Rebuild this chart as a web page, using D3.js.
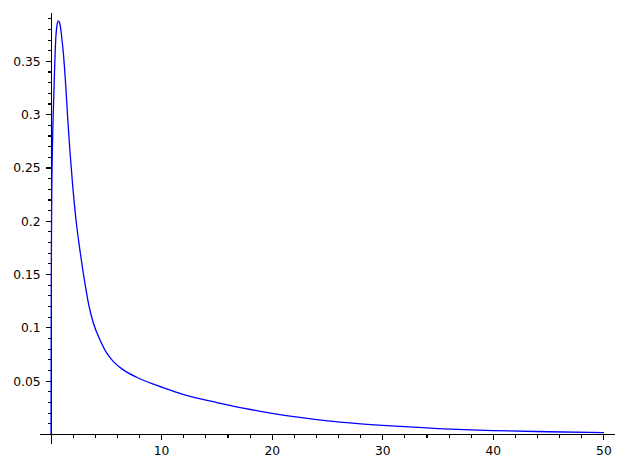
<!DOCTYPE html>
<html>
<head>
<meta charset="utf-8">
<script src="https://cdn.jsdelivr.net/npm/d3@7"></script>
<style>
  html, body { margin: 0; padding: 0; background: #fff; }
  svg { display: block; }
  text { font-family: "DejaVu Sans", sans-serif; font-size: 12.3px; fill: #000; }
</style>
</head>
<body>
<svg id="chart" width="628" height="468"></svg>
<script>
const xs = [0, 0.01, 0.03, 0.06, 0.12, 0.21, 0.30, 0.42, 0.54, 0.66, 0.78, 0.87, 0.96, 1.11, 1.33, 1.51, 1.72, 1.96, 2.26, 2.65, 3.14, 3.4, 3.83, 4.43, 5.04, 5.64, 6.54, 7.75, 9.25, 10.5, 12, 15, 17.5, 20, 22.5, 25, 27.5, 30, 35, 40, 45, 50];
const ys = [0, 0.09, 0.17, 0.22, 0.267, 0.305, 0.336, 0.37, 0.384, 0.388, 0.386, 0.381, 0.373, 0.358, 0.327, 0.296, 0.264, 0.233, 0.201, 0.170, 0.137, 0.122, 0.1044, 0.0887, 0.0763, 0.0684, 0.0606, 0.0537, 0.0472, 0.0426, 0.0373, 0.0300, 0.0245, 0.0198, 0.0160, 0.0128, 0.0104, 0.0085, 0.0056, 0.0037, 0.0026, 0.0018];
const xMajorTicks = [10, 20, 30, 40, 50];
const yMajorTicks = [0.05, 0.1, 0.15, 0.2, 0.25, 0.3, 0.35];
const yTickLabels = ["0.05", "0.1", "0.15", "0.2", "0.25", "0.3", "0.35"];

const svg = d3.select("#chart");
const x = d3.scaleLinear().domain([-1, 51]).range([40, 615]);
const y = d3.scaleLinear().domain([0, 0.395]).range([434.5, 13.4]);

const xMinor = d3.range(0, 51, 2).filter(v => v % 10 !== 0);
const yMinor = d3.range(1, 40).map(i => i / 100).filter(v => Math.round(v * 100) % 5 !== 0);

const g = svg.append("g");

// curve
const data = xs.map((d, i) => [d, ys[i]]);
const line = d3.line().x(d => x(d[0])).y(d => y(d[1])).curve(d3.curveMonotoneX);

// axes
const ax = g.append("g").attr("stroke", "#000").attr("stroke-width", 1.1).attr("shape-rendering", "crispEdges");
ax.append("line").attr("x1", x(-1)).attr("x2", x(51)).attr("y1", y(0)).attr("y2", y(0));
ax.append("line").attr("x1", x(0)).attr("x2", x(0)).attr("y1", y(0.395)).attr("y2", y(0) + 9);

// x ticks
ax.selectAll(".xmaj").data(xMajorTicks).join("line")
  .attr("x1", d => x(d)).attr("x2", d => x(d)).attr("y1", y(0)).attr("y2", y(0) + 5);
ax.selectAll(".xmin").data(xMinor).join("line")
  .attr("x1", d => x(d)).attr("x2", d => x(d)).attr("y1", y(0)).attr("y2", y(0) + 3);
// y ticks
ax.selectAll(".ymaj").data(yMajorTicks).join("line")
  .attr("x1", x(0) - 5).attr("x2", x(0)).attr("y1", d => y(d)).attr("y2", d => y(d));
ax.selectAll(".ymin").data(yMinor).join("line")
  .attr("x1", x(0) - 3).attr("x2", x(0)).attr("y1", d => y(d)).attr("y2", d => y(d));

// labels
g.selectAll(".xl").data(xMajorTicks).join("text")
  .attr("x", d => x(d)).attr("y", y(0) + 20.5).attr("text-anchor", "middle").text(d => d);
g.selectAll(".yl").data(yMajorTicks).join("text")
  .attr("x", x(0) - 10.5).attr("y", d => y(d) + 4.4).attr("text-anchor", "end").text((d, i) => yTickLabels[i]);

g.append("path").datum(data).attr("d", line)
  .attr("fill", "none").attr("stroke", "#0000ff").attr("stroke-width", 1.3);
</script>
</body>
</html>
